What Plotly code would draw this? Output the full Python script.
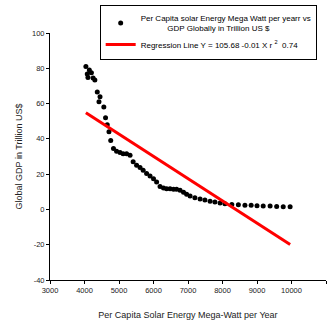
import plotly.graph_objects as go

# Data
solar_x = [4040, 4080, 4100, 4140, 4200, 4250, 4300, 4370, 4420, 4450, 4560, 4610, 4660,
           4710, 4760, 4840, 4930, 5030, 5120, 5220, 5320, 5410, 5510, 5610, 5700, 5800,
           5900, 6000, 6090, 6190, 6290, 6380, 6480, 6580, 6670, 6770, 6870, 6960, 7060,
           7200, 7350, 7490, 7640, 7780, 7930, 8070, 8270, 8460, 8650, 8830, 9000, 9180,
           9380, 9570, 9760, 9960]
gdp_y = [81, 76.7, 74.8, 79, 77.5, 74.5, 73.3, 66.5, 61, 63.8, 58, 52, 48,
         44, 39, 34.5, 33, 32.2, 31.6, 31.6, 30.7, 27, 25, 23.7, 22.2, 20.3,
         19, 17.4, 15.5, 13, 12.1, 11.7, 11.7, 11.4, 11.4, 10.8, 9.8, 8.6, 7.6,
         6.6, 5.9, 5.3, 4.7, 4.2, 3.6, 3.2, 2.8, 2.6, 2.4, 2.3, 2.1, 1.9,
         1.9, 1.7, 1.5, 1.5]

reg_intercept = 105.68
reg_slope = -0.0126
reg_x = [min(solar_x), max(solar_x)]
reg_y = [reg_intercept + reg_slope * v for v in reg_x]

x_ticks = [3000, 4000, 5000, 6000, 7000, 8000, 9000, 10000, 11000]
y_ticks = [-40, -20, 0, 20, 40, 60, 80, 100]

FONT = "Liberation Sans, Arial"

fig = go.Figure()
fig.add_trace(go.Scatter(
    x=solar_x, y=gdp_y, mode="markers",
    marker=dict(color="black", size=5),
    name="Per Capita solar Energy Mega Watt per yearr vs<br>            GDP Globally in Trillion US $",
))
fig.add_trace(go.Scatter(
    x=reg_x, y=reg_y, mode="lines",
    line=dict(color="red", width=3),
    name="Regression Line Y = 105.68 -0.01 X r <sup>2</sup>  0.74",
))

fig.update_layout(
    width=335, height=327,
    margin=dict(l=50, r=9, t=33, b=47, autoexpand=False),
    paper_bgcolor="white", plot_bgcolor="white",
    font=dict(family=FONT, size=8, color="#222"),
    showlegend=True,
    legend=dict(
        x=0.18, y=1.113, xanchor="left", yanchor="top",
        bordercolor="black", borderwidth=1, bgcolor="white",
        font=dict(family=FONT, size=8, color="black"),
        itemwidth=30, tracegroupgap=0,
    ),
    xaxis=dict(
        range=[3000, 11000], tickvals=x_ticks, ticktext=[str(t) for t in x_ticks],
        showgrid=False, zeroline=False, showline=True, linecolor="black", linewidth=1,
        ticks="outside", ticklen=3, tickcolor="black",
        tickfont=dict(family=FONT, size=7.5, color="#222"),
        title=dict(text="Per Capita Solar Energy Mega-Watt per Year",
                   font=dict(family=FONT, size=9, color="#222"), standoff=17),
    ),
    yaxis=dict(
        range=[-40, 100], tickvals=y_ticks, ticktext=[str(t) for t in y_ticks],
        showgrid=False, zeroline=False, showline=True, linecolor="black", linewidth=1,
        ticks="outside", ticklen=3, tickcolor="black",
        tickfont=dict(family=FONT, size=7.5, color="#222"),
        title=dict(text="Global GDP in Trillion US$",
                   font=dict(family=FONT, size=9, color="#222"), standoff=7),
    ),
)

fig.write_html("out.html")
